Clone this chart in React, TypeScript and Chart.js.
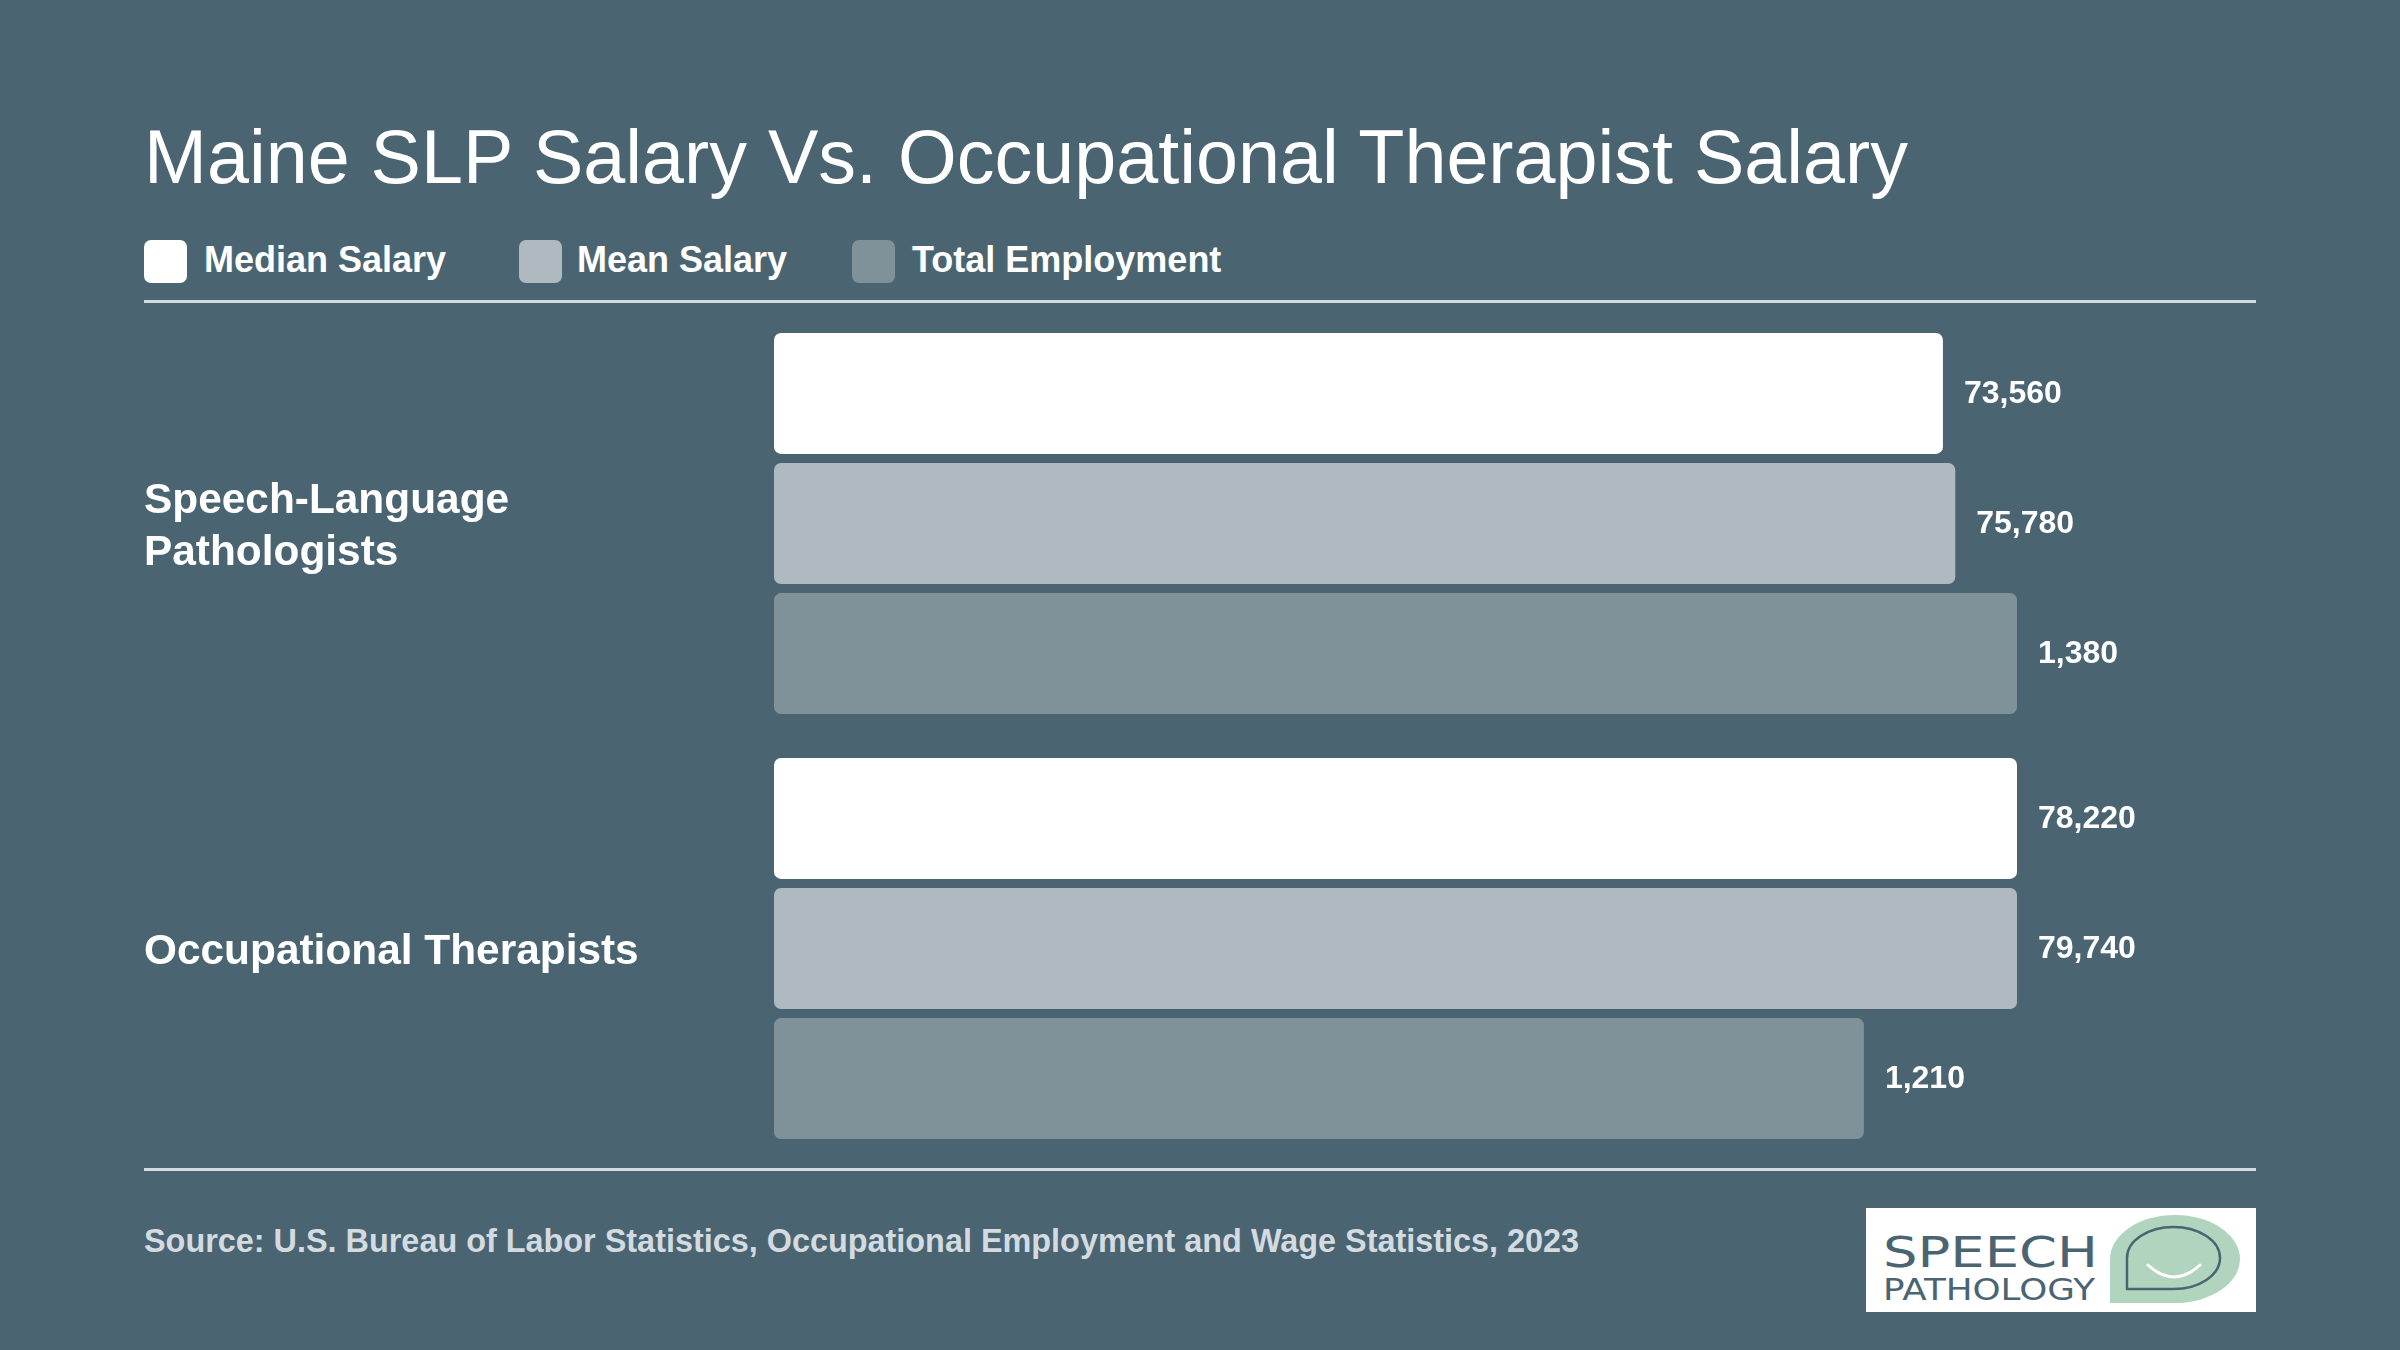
import React, { useEffect, useRef } from "react";
import { Chart, registerables } from "chart.js";

Chart.register(...registerables);

const titleText = "Maine SLP Salary Vs. Occupational Therapist Salary";
const categories: (string | string[])[] = [["Speech-Language", "Pathologists"], "Occupational Therapists"];
const seriesNames = ["Median Salary", "Mean Salary", "Total Employment"];
const medianSalary = [73560, 78220];
const meanSalary = [75780, 79740];
const totalEmployment = [1380, 1210];
const seriesColors = ["#ffffff", "#afbac0", "#7f9199"];
const sourceText = "Source: U.S. Bureau of Labor Statistics, Occupational Employment and Wage Statistics, 2023";

const BG = "#4a6571";
const FONT = "'Liberation Sans', Arial, Helvetica, sans-serif";

const valueLabelPlugin = {
  id: "valueLabels",
  afterDatasetsDraw(chart: any) {
    const ctx = chart.ctx;
    ctx.save();
    ctx.font = `bold 32px ${FONT}`;
    ctx.fillStyle = "#ffffff";
    ctx.textAlign = "left";
    ctx.textBaseline = "middle";
    chart.data.datasets.forEach((ds: any, di: number) => {
      const meta = chart.getDatasetMeta(di);
      meta.data.forEach((bar: any, i: number) => {
        const v = ds.data[i] as number;
        ctx.fillText(v.toLocaleString("en-US"), bar.x + 21, bar.y + 1);
      });
    });
    ctx.restore();
  },
};

function BarChart() {
  const ref = useRef<HTMLCanvasElement | null>(null);
  useEffect(() => {
    if (!ref.current) return;
    const series = [medianSalary, meanSalary, totalEmployment];
    const chart = new Chart(ref.current, {
      type: "bar",
      data: {
        labels: categories as any,
        datasets: series.map((d, i) => ({
          label: seriesNames[i],
          data: d,
          backgroundColor: seriesColors[i],
          xAxisID: `x${i + 1}`,
          borderRadius: 7,
          borderSkipped: false,
          categoryPercentage: 0.918,
          barPercentage: 0.93,
        })),
      },
      options: {
        indexAxis: "y",
        responsive: false,
        animation: false,
        devicePixelRatio: 1,
        layout: { padding: { left: 144, right: 383, top: 10, bottom: 8 } },
        plugins: { legend: { display: false }, title: { display: false }, tooltip: { enabled: false } },
        scales: {
          y: {
            position: "left",
            grid: { display: false },
            border: { display: false },
            ticks: {
              color: "#ffffff",
              crossAlign: "far",
              padding: 0,
              labelOffset: 4,
              font: { family: FONT, size: 42.4, weight: "bold", lineHeight: 1.24 },
            },
            afterFit: (s: any) => {
              s.width = 630;
              s.paddingTop = 0;
              s.paddingBottom = 0;
            },
          },
          x1: { type: "linear", display: false, min: 0, max: Math.max(...medianSalary) },
          x2: { type: "linear", display: false, min: 0, max: Math.max(...meanSalary) },
          x3: { type: "linear", display: false, min: 0, max: Math.max(...totalEmployment) },
        },
      } as any,
      plugins: [valueLabelPlugin],
    });
    return () => chart.destroy();
  }, []);
  return <canvas ref={ref} width={2400} height={868} style={{ position: "absolute", left: 0, top: 301, width: 2400, height: 868 }} />;
}

function Logo() {
  return (
    <div style={{ position: "absolute", left: 1866, top: 1208, width: 390, height: 104, background: "#ffffff" }}>
      <svg width={390} height={104} viewBox="0 0 390 104">
        <path d="M 244 95 L 244 51 A 65 44 0 0 1 374 51 A 65 44 0 0 1 309 95 Z" fill="#b0d4be" />
        <path d="M 261 81 L 261 50 A 46.5 31 0 0 1 354 50 A 46.5 31 0 0 1 307.5 81 Z" fill="none" stroke="#4a6571" strokeWidth={2.5} strokeLinejoin="round" />
        <path d="M 282 57 Q 308 81 334 57" fill="none" stroke="#ffffff" strokeWidth={3} strokeLinecap="round" />
        <text x={17} y={59} fontFamily="'DejaVu Sans', sans-serif" fontSize={42} fill="#4a6571" textLength={215} lengthAdjust="spacingAndGlyphs">SPEECH</text>
        <text x={17} y={92} fontFamily="'DejaVu Sans', sans-serif" fontSize={31} fill="#4a6571" textLength={212} lengthAdjust="spacingAndGlyphs">PATHOLOGY</text>
      </svg>
    </div>
  );
}

export default function App() {
  const legendBoxX = [144, 519, 852];
  const legendTextX = [204, 577, 912];
  return (
    <div style={{ position: "fixed", left: 0, top: 0, width: 2400, height: 1350, background: BG, overflow: "hidden", fontFamily: FONT }}>
      <div style={{ position: "absolute", left: 144, top: 120, fontSize: 75.5, lineHeight: "75px", color: "#ffffff", whiteSpace: "nowrap" }}>{titleText}</div>
      {seriesNames.map((n, i) => (
        <React.Fragment key={n}>
          <div style={{ position: "absolute", left: legendBoxX[i], top: 240, width: 43, height: 43, borderRadius: 7, background: seriesColors[i] }} />
          <div style={{ position: "absolute", left: legendTextX[i], top: 242, fontSize: 36, lineHeight: "36px", fontWeight: "bold", color: "#ffffff", whiteSpace: "nowrap" }}>{n}</div>
        </React.Fragment>
      ))}
      <div style={{ position: "absolute", left: 144, top: 300, width: 2112, height: 3, background: "#d4dbe0" }} />
      <BarChart />
      <div style={{ position: "absolute", left: 144, top: 1168, width: 2112, height: 3, background: "#d4dbe0" }} />
      <div style={{ position: "absolute", left: 144, top: 1225, fontSize: 32.4, lineHeight: "32px", fontWeight: "bold", color: "#d4dbe0", whiteSpace: "nowrap" }}>{sourceText}</div>
      <Logo />
    </div>
  );
}
